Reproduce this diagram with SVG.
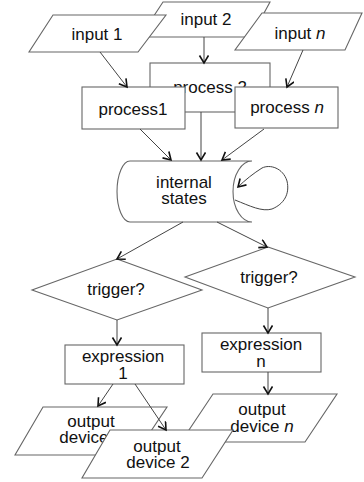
<svg xmlns="http://www.w3.org/2000/svg" width="364" height="482" viewBox="0 0 364 482">
<defs>
<marker id="ah" markerUnits="userSpaceOnUse" markerWidth="12" markerHeight="12" refX="8" refY="5" orient="auto">
<path d="M0.5,0.5 L8,5 L0.5,9.5" fill="none" stroke="#111" stroke-width="1.6"/>
</marker>
<style>
.s{fill:#fff;stroke:#666;stroke-width:1.1}
.t{font-family:"Liberation Sans",Arial,sans-serif;font-size:17px;fill:#111;text-anchor:middle}
.c{fill:none;stroke:#444;stroke-width:1;marker-end:url(#ah)}
</style>
</defs>
<rect width="364" height="482" fill="#fff"/>
<g id="input2"><polygon class="s" points="163,2 270,2 251,37 140,37"/><text class="t" x="206" y="25">input 2</text></g>
<g id="input1"><polygon class="s" points="53,15 166,15 138,52 29,52"/><text class="t" x="97" y="40">input 1</text></g>
<g id="inputn"><polygon class="s" points="262,13 362,13 345,50 235,50"/><text class="t" x="300" y="39">input <tspan font-style="italic">n</tspan></text></g>
<g id="process2"><rect class="s" x="150" y="63" width="120" height="49"/><text class="t" x="210" y="93">process 2</text></g>
<g id="process1"><rect class="s" x="82" y="87" width="103" height="42"/><text class="t" x="133" y="115">process1</text></g>
<g id="processn"><rect class="s" x="235" y="87" width="103" height="41"/><text class="t" x="287" y="113">process <tspan font-style="italic">n</tspan></text></g>
<g id="internal"><path class="s" d="M130,161 H252 A19,30.5 0 0 0 252,222 H130 A13,30.5 0 0 1 130,161 Z"/><text class="t" x="184" y="188">internal</text><text class="t" x="184" y="204">states</text></g>
<g id="trigger1"><polygon class="s" points="117,259 202,290 117,320 32,290"/><text class="t" x="116" y="295">trigger?</text></g>
<g id="trigger2"><polygon class="s" points="268,247 355,277 268,308 185,277"/><text class="t" x="269" y="283">trigger?</text></g>
<g id="expression1"><rect class="s" x="65" y="345" width="119" height="39"/><text class="t" x="123" y="362">expression</text><text class="t" x="123" y="379">1</text></g>
<g id="expressionn"><rect class="s" x="202" y="333" width="119" height="39"/><text class="t" x="261" y="350">expression</text><text class="t" x="261" y="367">n</text></g>
<g id="outputn"><polygon class="s" points="213,394 337,394 305,442 181,442"/><text class="t" x="262" y="415">output</text><text class="t" x="262" y="432">device <tspan font-style="italic">n</tspan></text></g>
<g id="output1"><polygon class="s" points="43,407 167,407 135,455 15,455"/><text class="t" x="91" y="427">output</text><text class="t" x="91" y="443">device 1</text></g>
<g id="output2"><polygon class="s" points="110,430 233,430 202,478 82,478"/><text class="t" x="157" y="452">output</text><text class="t" x="158" y="468">device 2</text></g>
<g id="connectors">
<line class="c" x1="100" y1="52" x2="127" y2="87"/>
<line class="c" x1="204" y1="37" x2="204" y2="63"/>
<line class="c" x1="303" y1="50" x2="287" y2="87"/>
<line class="c" x1="140" y1="129" x2="171" y2="160"/>
<line class="c" x1="201" y1="112" x2="201" y2="160"/>
<line class="c" x1="264" y1="129" x2="222" y2="160"/>
<path class="c" d="M235,200 C250,206 262,212 272,209 C284,204 290,194 287,181 C283,168 270,164 262,168 C254,173 245,180 238,187"/>
<line class="c" x1="183" y1="222" x2="117" y2="259"/>
<line class="c" x1="217" y1="222" x2="267" y2="247"/>
<line class="c" x1="117" y1="320" x2="117" y2="345"/>
<line class="c" x1="268" y1="308" x2="268" y2="333"/>
<line class="c" x1="268" y1="372" x2="268" y2="394"/>
<line class="c" x1="113" y1="384" x2="98" y2="406"/>
<line class="c" x1="135" y1="384" x2="166" y2="430"/>
</g>
</svg>
